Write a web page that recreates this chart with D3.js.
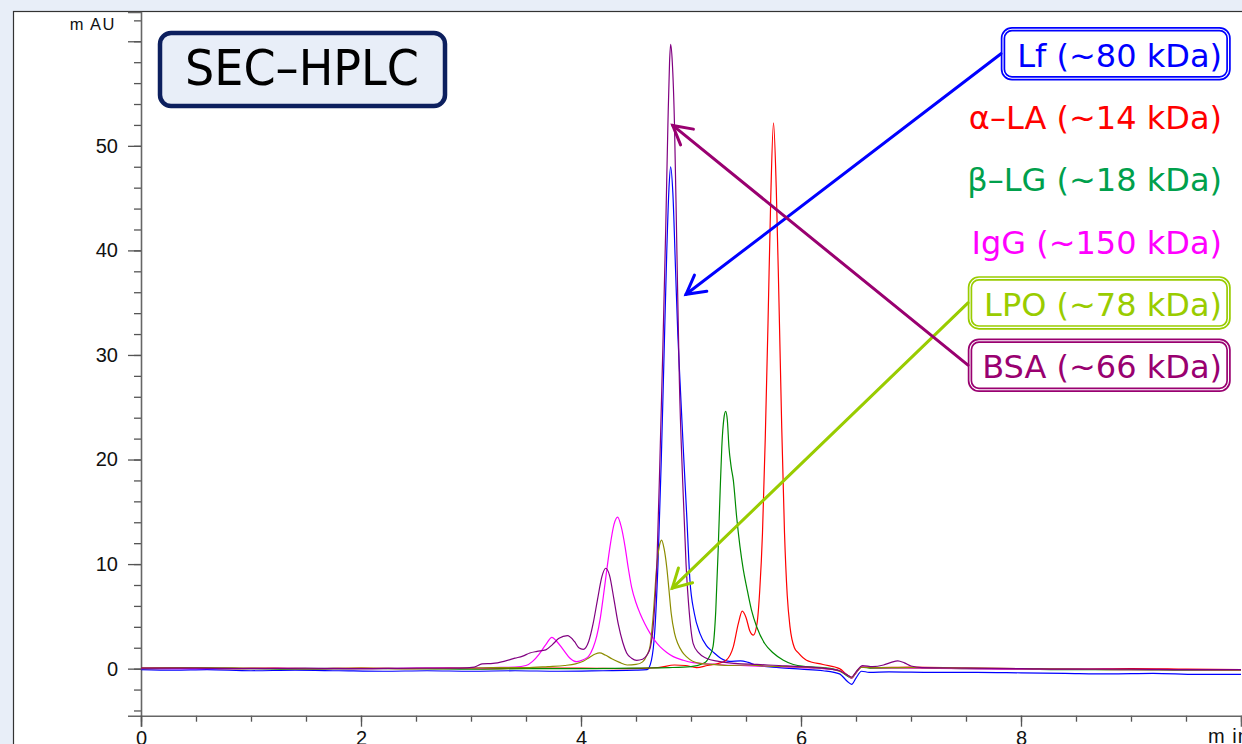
<!DOCTYPE html>
<html>
<head>
<meta charset="utf-8">
<script src="https://cdn.jsdelivr.net/npm/d3@7"></script>
<style>
  body { margin: 0; background: #e8eef8; }
  svg { display: block; }
</style>
</head>
<body>
<div id="chart"></div>
<script>
// chromatogram traces: [time (min), absorbance (mAU)]
var lf = [[0,-0.1],[0.3,-0.15],[0.6,-0.1],[1.0,-0.2],[1.4,-0.15],[1.8,-0.2],[2.2,-0.25],[2.6,-0.2],[3.0,-0.25],[3.4,-0.2],[3.8,-0.25],[4.2,-0.2],[4.5,-0.15],[4.6,-0.1],
  [4.64,0.8],[4.67,3.5],[4.70,10],[4.73,20],[4.755,30],[4.78,40],[4.80,46],[4.815,48],[4.835,45.5],[4.86,38],[4.88,32],[4.90,27.5],[4.93,21],[4.96,14.9],[4.99,8.5],
  [5.03,5.3],[5.08,3.4],[5.14,2.2],[5.2,1.6],[5.27,1.0],[5.35,0.7],[5.45,0.75],[5.52,0.6],[5.6,0.3],[5.8,0.1],[6.0,-0.05],[6.2,-0.2],[6.35,-0.5],[6.42,-1.2],[6.46,-1.5],
  [6.5,-0.9],[6.55,-0.25],[6.62,-0.35],[6.8,-0.3],[7.2,-0.35],[7.6,-0.35],[8.0,-0.4],[8.4,-0.45],[8.8,-0.5],[9.2,-0.45],[9.6,-0.55],[10,-0.55]];

var alphaLA = [[0,0.05],[0.4,0.1],[0.8,0.0],[1.2,0.05],[1.6,0.0],[2.0,0.05],[2.4,0.0],[2.8,0.05],[3.2,0.0],[3.6,0.05],[4.0,0.05],[4.4,0.0],[4.7,0.1],[4.85,0.35],[4.95,0.3],
  [5.05,0.1],[5.15,0.3],[5.25,0.5],[5.32,0.8],[5.385,2.1],[5.43,4.3],[5.466,5.5],[5.5,4.9],[5.535,3.6],[5.567,3.2],[5.6,4.3],[5.625,7.5],[5.65,13],[5.675,22],[5.70,33],
  [5.725,45],[5.75,52.2],[5.775,46],[5.80,35],[5.825,23],[5.85,13],[5.875,7],[5.9,4.0],[5.94,2.0],[5.976,1.5],[6.05,0.8],[6.2,0.4],[6.35,0.0],[6.42,-0.6],[6.46,-0.9],
  [6.5,-0.4],[6.55,0.15],[6.65,0.1],[7.0,0.15],[7.5,0.05],[8.0,0.0],[8.5,-0.05],[9.0,0.0],[9.5,-0.05],[10,-0.1]];

var betaLG = [[0,0.0],[0.5,0.05],[1.0,0.0],[1.5,-0.05],[2.0,0.0],[2.5,0.0],[3.0,-0.05],[3.5,0.0],[4.0,0.0],[4.5,0.05],[4.8,0.1],[5.0,0.2],[5.1,0.45],[5.14,0.7],[5.17,1.2],
  [5.2,2.1],[5.225,5.5],[5.248,11.7],[5.265,17],[5.28,21.2],[5.3,24],[5.315,24.6],[5.33,23.8],[5.345,21.2],[5.365,19.3],[5.385,18.0],[5.415,14.5],[5.445,11.7],[5.475,9.5],
  [5.506,7.8],[5.55,5.6],[5.597,4.0],[5.67,2.4],[5.748,1.5],[5.84,0.8],[5.93,0.4],[6.05,0.2],[6.2,0.1],[6.35,-0.2],[6.42,-0.7],[6.46,-0.9],[6.5,-0.4],[6.55,0.15],[6.65,0.05],
  [7.0,0.1],[7.5,0.0],[8.0,-0.05],[8.5,-0.1],[9.0,-0.1],[9.5,-0.15],[10,-0.15]];

var igg = [[0,0.0],[0.5,0.0],[1.0,0.05],[1.5,0.0],[2.0,0.0],[2.5,0.05],[3.0,0.05],[3.2,0.1],[3.4,0.15],[3.5,0.3],[3.56,0.7],[3.62,1.4],[3.68,2.3],[3.736,3.0],[3.78,2.6],
  [3.84,1.8],[3.9,1.0],[3.961,0.67],[4.02,0.85],[4.067,1.15],[4.11,2.0],[4.143,3.1],[4.175,4.8],[4.203,6.9],[4.235,9.5],[4.264,11.7],[4.3,13.8],[4.333,14.5],[4.365,13.6],
  [4.4,11.7],[4.43,9.6],[4.46,7.8],[4.5,6.3],[4.536,5.3],[4.58,4.3],[4.627,3.4],[4.67,2.7],[4.718,2.1],[4.78,1.55],[4.839,1.15],[4.93,0.8],[5.02,0.57],[5.15,0.45],
  [5.3,0.35],[5.45,0.3],[5.6,0.25],[5.8,0.2],[6.0,0.1],[6.2,0.0],[6.35,-0.2],[6.42,-0.6],[6.46,-0.9],[6.5,-0.4],[6.55,0.2],[6.65,0.1],[7.0,0.05],[7.5,0.0],[8.0,-0.05],
  [8.5,-0.05],[9.0,-0.1],[9.5,-0.1],[10,-0.15]];

var lpo = [[0,0.05],[0.5,0.1],[1.0,0.05],[1.5,0.0],[2.0,0.05],[2.5,0.0],[3.0,0.05],[3.2,0.1],[3.5,0.1],[3.7,0.2],[3.85,0.3],[3.95,0.45],[4.02,0.7],[4.08,1.1],[4.13,1.4],
  [4.17,1.5],[4.22,1.3],[4.28,0.95],[4.35,0.6],[4.42,0.35],[4.5,0.4],[4.56,0.65],[4.6,1.3],[4.627,2.1],[4.658,5.3],[4.688,9.75],[4.71,11.6],[4.733,12.3],[4.755,11.5],
  [4.779,9.75],[4.80,7.5],[4.82,5.3],[4.85,3.4],[4.88,2.4],[4.92,1.6],[4.958,1.15],[5.08,0.5],[5.2,0.4],[5.35,0.3],[5.5,0.35],[5.7,0.25],[5.9,0.2],[6.1,0.1],[6.3,-0.1],
  [6.42,-0.6],[6.46,-0.85],[6.5,-0.35],[6.55,0.15],[6.65,0.1],[7.0,0.1],[7.5,0.05],[8.0,0.0],[8.5,-0.05],[9.0,-0.1],[9.5,-0.1],[10,-0.15]];

var bsa = [[0,0.05],[0.5,0.05],[1.0,0.0],[1.5,0.05],[2.0,0.0],[2.5,0.05],[2.9,0.05],[3.03,0.15],[3.1,0.45],[3.2,0.5],[3.3,0.7],[3.4,1.0],[3.47,1.2],[3.535,1.5],[3.6,1.65],
  [3.68,1.8],[3.74,2.3],[3.8,2.9],[3.876,3.15],[3.94,2.6],[3.98,2.0],[4.02,1.85],[4.07,2.6],[4.11,4.3],[4.15,6.6],[4.19,8.8],[4.225,9.6],[4.26,8.9],[4.3,6.6],[4.34,4.2],
  [4.38,2.5],[4.415,1.5],[4.46,1.0],[4.506,0.8],[4.56,0.9],[4.6,1.3],[4.63,2.0],[4.66,4.5],[4.69,10],[4.72,21],[4.745,31],[4.77,42],[4.79,52],[4.805,58],[4.815,59.7],
  [4.83,58],[4.85,52],[4.87,41],[4.894,27.6],[4.924,18],[4.955,10],[4.985,5.3],[5.02,2.4],[5.07,1.5],[5.14,1.0],[5.25,0.7],[5.4,0.5],[5.6,0.4],[5.8,0.3],[6.0,0.2],
  [6.2,0.05],[6.35,-0.2],[6.42,-0.6],[6.46,-0.8],[6.5,-0.3],[6.56,0.3],[6.65,0.2],[6.75,0.35],[6.82,0.6],[6.88,0.75],[6.94,0.55],[7.0,0.25],[7.1,0.1],[7.5,0.05],
  [8.0,0.0],[8.5,-0.05],[9.0,-0.05],[9.5,-0.1],[10,-0.1]];

// drawing order (last on top)
var traces = [lf, alphaLA, betaLG, igg, lpo, bsa];
var traceColors = ["#0000ff", "#ff0000", "#008a00", "#ff00ff", "#8c8c00", "#800080"];

// legend
var labels = ["Lf (~80 kDa)", "\u03b1\u2013LA (~14 kDa)", "\u03b2\u2013LG (~18 kDa)", "IgG (~150 kDa)", "LPO (~78 kDa)", "BSA (~66 kDa)"];
var labelColors = ["#0000ff", "#ff0000", "#00a04c", "#ff00ff", "#99cc00", "#990070"];
var boxed = [true, false, false, false, true, true];
// arrow tips in data units [min, mAU]: Lf, LPO, BSA
var arrowTips = [[4.955, 35.8], [4.83, 7.7], [4.834, 51.95]];
var arrowFrom = [0, 4, 5];

var xTicks = [0, 2, 4, 6, 8];
var yTicks = [0, 10, 20, 30, 40, 50];

var W = 1242, H = 744;
var svg = d3.select("#chart").append("svg")
    .attr("width", W)
    .attr("height", H);

// white frame of the plot window
svg.append("rect")
    .attr("x", 13.5).attr("y", 11.5)
    .attr("width", 1300).attr("height", 800)
    .attr("fill", "#fff")
    .attr("stroke", "#333")
    .attr("stroke-width", 1.2);

var x = d3.scaleLinear().domain([0, 10]).range([141, 1241]);
var y = d3.scaleLinear().domain([-4.5, 62.8]).range([715.7, 12]);

// minor ticks
svg.append("g")
    .attr("transform", "translate(141,0)")
    .call(d3.axisLeft(y).tickValues(d3.range(-4, 63, 2)).tickSize(7).tickFormat(""))
    .call(function(g){ g.select(".domain").remove(); });
svg.append("g")
    .attr("transform", "translate(0,715.7)")
    .call(d3.axisBottom(x).tickValues(d3.range(0, 10.01, 0.5)).tickSize(6).tickFormat(""))
    .call(function(g){ g.select(".domain").remove(); });

// major ticks
var yAxis = svg.append("g")
    .attr("transform", "translate(141,0)")
    .call(d3.axisLeft(y).tickValues(yTicks.concat([60])).tickSize(13).tickPadding(10)
      .tickFormat(function(d){ return d === 60 ? "" : d; }));
var xAxis = svg.append("g")
    .attr("transform", "translate(0,715.7)")
    .call(d3.axisBottom(x).tickValues(xTicks).tickSize(11).tickPadding(4));

svg.selectAll(".tick line").attr("stroke", "#555").attr("stroke-width", 1.3);
svg.selectAll(".domain").attr("stroke", "#666").attr("stroke-width", 1.6);
svg.selectAll(".tick text")
    .style("font-family", "Liberation Sans, Arial, sans-serif")
    .style("font-size", "20px")
    .attr("fill", "#111");

svg.append("text")
    .attr("x", 116).attr("y", 30)
    .attr("text-anchor", "end")
    .style("font-family", "Liberation Sans, Arial, sans-serif")
    .style("font-size", "16.5px")
    .style("letter-spacing", "1.5px")
    .attr("fill", "#111")
    .text("m AU");
svg.append("text")
    .attr("x", 1208).attr("y", 743)
    .style("font-family", "Liberation Sans, Arial, sans-serif")
    .style("font-size", "20px")
    .style("letter-spacing", "1px")
    .attr("fill", "#111")
    .text("m in");

// traces
var line = d3.line()
    .x(function(d){ return x(d[0]); })
    .y(function(d){ return y(d[1]); })
    .curve(d3.curveMonotoneX);

svg.append("g").selectAll("path").data(traces).enter().append("path")
    .attr("d", line)
    .attr("fill", "none")
    .attr("stroke", function(d, i){ return traceColors[i]; })
    .attr("stroke-width", 1.2);

// title box
svg.append("rect")
    .attr("x", 160).attr("y", 33)
    .attr("width", 285).attr("height", 73)
    .attr("rx", 11)
    .attr("fill", "#e8eef8")
    .attr("stroke", "#0c1f5e")
    .attr("stroke-width", 4.5);
svg.append("text")
    .attr("x", 302).attr("y", 85)
    .attr("text-anchor", "middle")
    .attr("textLength", 234)
    .attr("lengthAdjust", "spacingAndGlyphs")
    .style("font-family", "DejaVu Sans, sans-serif")
    .style("font-size", "50px")
    .attr("fill", "#000")
    .text("SEC\u2013HPLC");

// legend labels
var legend = svg.append("g");
var boxLeft = {0: 1003, 4: 970, 5: 970};
labels.forEach(function(lab, i){
  var base = 66.7 + i * 62.3;
  if (boxed[i]) {
    var bx = boxLeft[i], by = base - 37.5, bw = 1228.5 - bx, bh = 49;
    legend.append("rect").attr("x", bx).attr("y", by).attr("width", bw).attr("height", bh)
        .attr("rx", 9).attr("fill", "#fff")
        .attr("stroke", labelColors[i]).attr("stroke-width", 4.5);
    legend.append("rect").attr("x", bx).attr("y", by).attr("width", bw).attr("height", bh)
        .attr("rx", 9).attr("fill", "none")
        .attr("stroke", "#fff").attr("stroke-width", 1.1);
  }
  legend.append("text")
      .attr("x", 1222).attr("y", base)
      .attr("text-anchor", "end")
      .style("font-family", "DejaVu Sans, sans-serif")
      .style("font-size", "32px")
      .attr("fill", labelColors[i])
      .text(lab);
});

// arrows from boxes to peaks
arrowTips.forEach(function(tip, k){
  var i = arrowFrom[k];
  var base = 66.7 + i * 62.3;
  var sx = boxLeft[i] - 2, sy = base - 13;
  var tx = x(tip[0]), ty = y(tip[1]);
  var ang = Math.atan2(sy - ty, sx - tx), a = 29 * Math.PI / 180, len = 21;
  var g = svg.append("g")
      .attr("stroke", labelColors[i]).attr("stroke-width", 3)
      .attr("stroke-linecap", "round").attr("fill", "none");
  g.append("line").attr("x1", sx).attr("y1", sy).attr("x2", tx).attr("y2", ty);
  g.append("path").attr("d",
      "M" + (tx + len * Math.cos(ang - a)) + "," + (ty + len * Math.sin(ang - a)) +
      "L" + tx + "," + ty +
      "L" + (tx + len * Math.cos(ang + a)) + "," + (ty + len * Math.sin(ang + a)));
});
</script>
</body>
</html>
